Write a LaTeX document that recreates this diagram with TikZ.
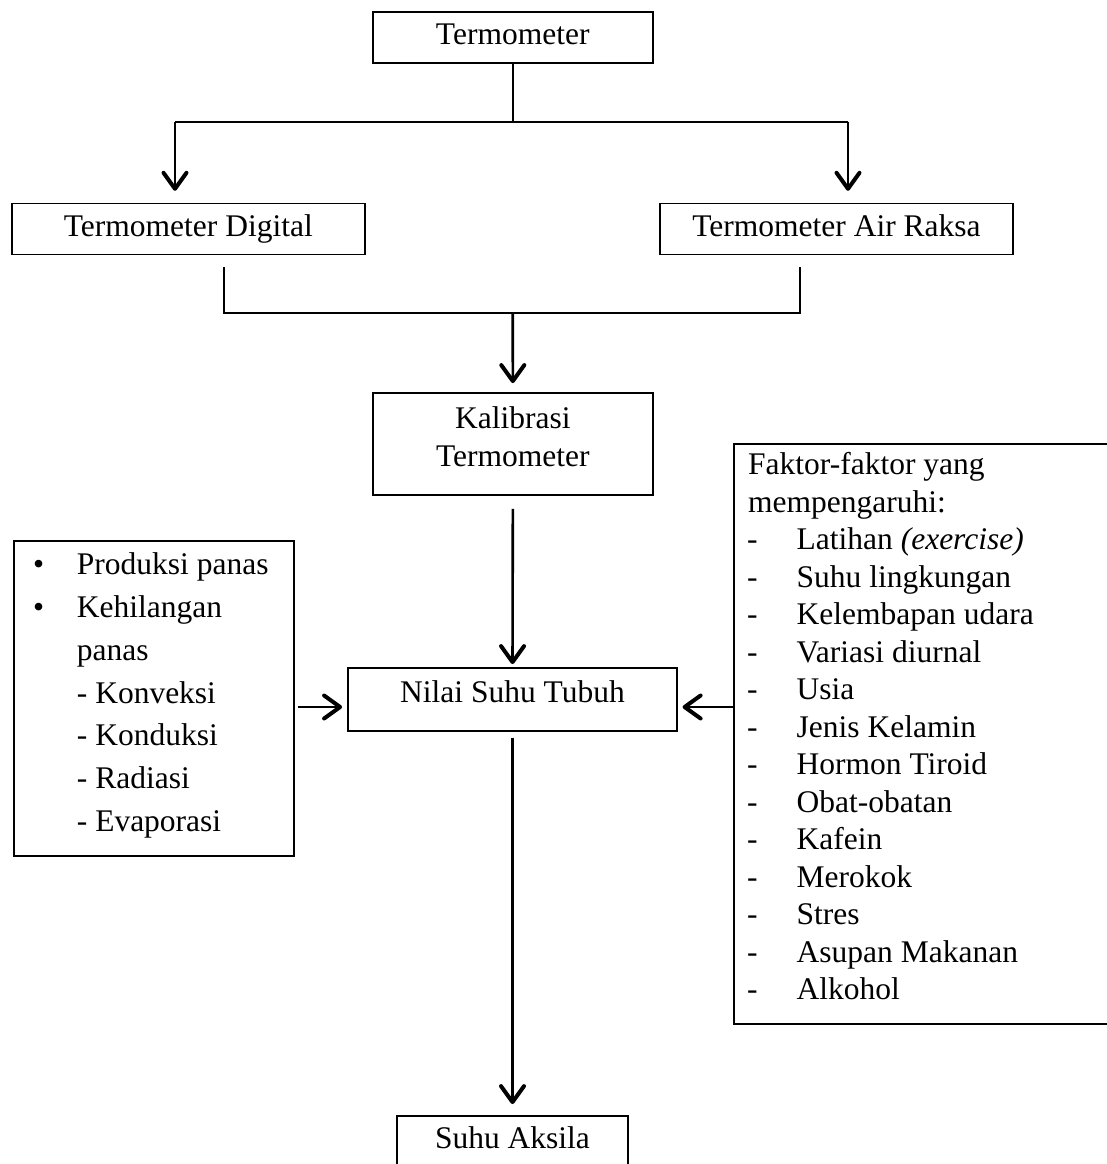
\documentclass[tikz,border=0pt]{standalone}
\usepackage{fontspec}
\setmainfont{Liberation Serif}
\usetikzlibrary{calc,arrows.meta}
\tikzset{
    every node/.style={font=\fontsize{31.5}{37.5}\selectfont,inner sep=0pt},
    box/.style={draw,line width=1.8pt,align=center},
    one line/.style={box,text height=22pt,text depth=7pt},
    item/.style={anchor=base west},
    link/.style={line width=1.8pt},
    flow/.style={line width=2.6pt,-{Straight Barb[length=16pt,width=23pt,line width=4pt,round]}}
}

\begin{document}
\begin{tikzpicture}[x=1pt,y=-1pt]
    \useasboundingbox (0,0) rectangle (1107,1164);

    \node[one line,minimum width=280,minimum height=51.6] (termo) at (512.7,37.5) {Termometer};
    \node[one line,minimum width=353.3,minimum height=51] (digital) at (188.3,229) {Termometer Digital};
    \node[one line,minimum width=353,minimum height=51] (raksa) at (836.5,229) {Termometer Air Raksa};
    \node[box,minimum width=279.7,minimum height=102,text height=59.5pt,text depth=15.5pt,font=\fontsize{31.5}{38}\selectfont] (kalibrasi) at (512.85,444) {Kalibrasi\\Termometer};
    \node[one line,minimum width=329,minimum height=63,text depth=15.6pt] (nilai) at (512.5,699.5) {Nilai Suhu Tubuh};
    \node[one line,minimum width=231.6,minimum height=63,text depth=21pt] (aksila) at (512.5,1147.5) {Suhu Aksila};
    \node[box,minimum width=280,minimum height=315,anchor=north west] (proses) at (12.7,540) {};
    \node[box,minimum width=420,minimum height=580,anchor=north west] (faktor) at (732.7,442.7) {};

    % isi kotak kiri
    \foreach \i in {0,1}
        \node[item] (dot\i) at (33,{574.3+42.9*\i}) {\textbullet};
    \foreach \txt [count=\i from 0] in {Produksi panas,Kehilangan,panas,- Konveksi,- Konduksi,- Radiasi,- Evaporasi}
        \node[item] (panas\i) at (76.7,{574.3+42.9*\i}) {\txt};

    % isi kotak kanan
    \node[item] (fak0) at (748,474.5) {Faktor-faktor yang};
    \node[item] (fak1) at (748,512) {mempengaruhi:};
    \foreach \txt [count=\i from 2] in {Latihan \textit{(exercise)},Suhu lingkungan,Kelembapan udara,Variasi diurnal,Usia,Jenis Kelamin,Hormon Tiroid,Obat-obatan,Kafein,Merokok,Stres,Asupan Makanan,Alkohol}{
        \node[item] (dash\i) at (747,{474.5+37.5*\i}) {-};
        \node[item] (fak\i) at (796.5,{474.5+37.5*\i}) {\txt};
    }

    \coordinate (split) at (512.7,121.7);
    \coordinate (splitL) at (175,121.7);
    \coordinate (splitR) at (848,121.7);
    \coordinate (join) at (512.7,313.3);
    \coordinate (joinL) at (224,313.3);
    \coordinate (joinR) at (800,313.3);
    \coordinate (mid) at (0,707);

    \draw[link] (termo.south) -- (split);
    \draw[link] (splitL) -- (splitR);
    \draw[flow,shorten >=11.8pt] (splitL) -- (splitL |- digital.north);
    \draw[flow,shorten >=11.8pt] (splitR) -- (splitR |- raksa.north);
    \draw[link,shorten <=11.5pt,shorten >=11.5pt] (joinL |- digital.south) -- (joinL) -- (joinR) -- (joinR |- raksa.south);
    \draw[flow,shorten >=9pt] (join) -- (kalibrasi.north);
    \draw[flow,shorten <=13pt,shorten >=3pt] (kalibrasi.south) -- (nilai.north);
    \draw[flow,shorten <=6pt,shorten >=11pt] (nilai.south) -- (aksila.north);
    \draw[flow,shorten <=3.3pt,shorten >=5pt] (proses.east |- mid) -- (nilai.west |- mid);
    \draw[flow,shorten >=4.7pt] (faktor.west |- mid) -- (nilai.east |- mid);
\end{tikzpicture}
\end{document}
